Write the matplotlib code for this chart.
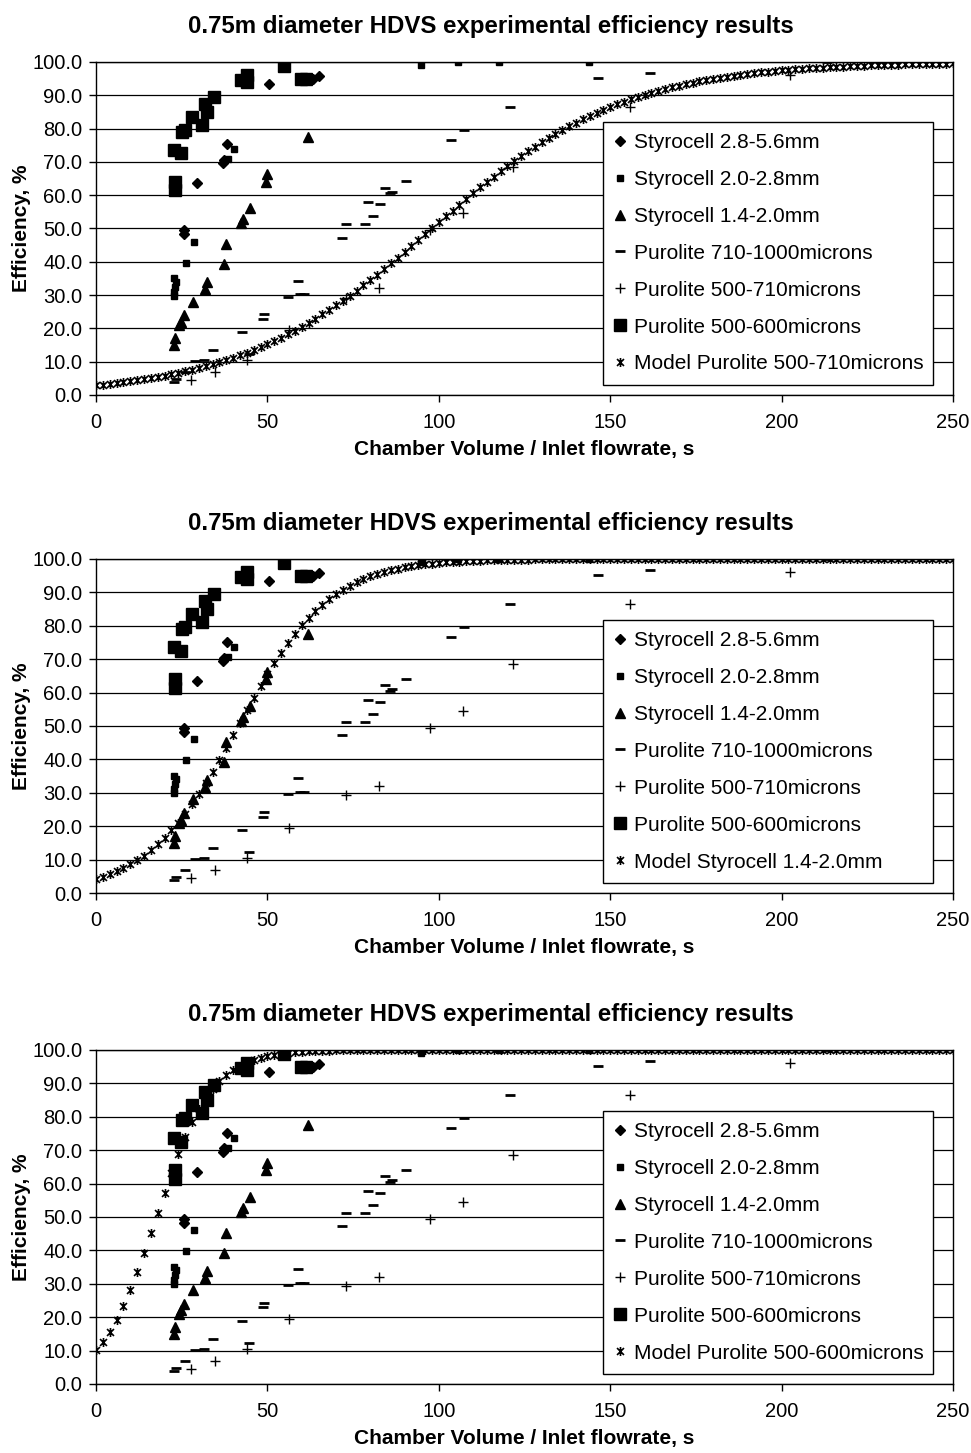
import matplotlib.pyplot as plt
from matplotlib.path import Path
from matplotlib.ticker import FormatStrFormatter

plt.rcParams['font.family'] = ['Liberation Sans', 'DejaVu Sans']

# experimental points (residence time s, efficiency %)
styro_28_56_t = [25.6, 25.8, 29.5, 37.1, 37.4, 38.3, 50.5, 63.2, 65.1]
styro_28_56_e = [49.5, 48.3, 63.5, 69.5, 70.5, 75.2, 93.5, 94.8, 95.8]

styro_20_28_t = [22.6, 22.8, 23.0, 23.3, 22.7, 26.1, 28.7, 38.6, 40.2, 94.8, 105.5, 117.6, 143.8]
styro_20_28_e = [29.8, 31.0, 32.5, 34.0, 35.0, 39.7, 46.0, 70.7, 73.7, 99.2, 100.0, 100.0, 100.0]

styro_14_20_t = [22.7, 23.1, 24.1, 24.8, 25.6, 28.3, 31.9, 32.4, 37.3, 37.8, 42.2, 43.0, 44.8, 49.5, 50.0, 61.7]
styro_14_20_e = [15.0, 17.0, 21.0, 22.0, 24.0, 28.0, 31.7, 33.8, 39.2, 45.3, 51.5, 52.7, 56.0, 64.0, 66.2, 77.5]

puro_710_1000_t = [22.7, 23.4, 25.9, 29.0, 31.5, 34.1, 42.5, 44.6, 48.7, 49.0, 56.1, 59.0, 59.6, 60.8, 71.7,
                   72.8, 78.5, 79.2, 80.9, 82.8, 84.3, 85.8, 86.4, 90.4, 103.6, 107.2, 120.8, 146.5, 161.6, 213.1]
puro_710_1000_e = [3.9, 4.9, 6.9, 10.3, 10.4, 13.4, 18.9, 12.2, 22.9, 24.3, 29.5, 34.3, 30.2, 30.3, 47.2,
                   51.2, 51.2, 57.8, 53.6, 57.2, 62.2, 60.6, 61.0, 64.2, 76.5, 79.7, 86.5, 95.3, 96.7, 100.0]

puro_500_710_t = [27.7, 34.7, 43.9, 56.4, 72.9, 82.4, 97.4, 107.0, 121.5, 155.8, 202.4]
puro_500_710_e = [4.6, 6.9, 10.5, 19.6, 29.2, 32.0, 49.4, 54.5, 68.5, 86.5, 96.0]

puro_500_600_t = [23.1, 23.1, 22.7, 24.8, 25.1, 26.0, 28.0, 30.8, 32.4, 31.9, 34.4, 42.2, 44.1, 44.1, 54.7, 59.8, 61.3]
puro_500_600_e = [61.5, 64.0, 73.5, 72.5, 79.0, 79.5, 83.5, 81.0, 85.0, 87.5, 89.5, 94.5, 96.0, 94.0, 98.7, 94.8, 94.8]

# model curves, one point every 2 s from 0 to 250 s
model_t = list(range(0, 252, 2))

model_p500_710 = [
    2.9, 3.1, 3.4, 3.6, 3.9, 4.1, 4.4, 4.7, 5.1, 5.4,
    5.8, 6.2, 6.7, 7.1, 7.6, 8.1, 8.7, 9.2, 9.9, 10.5,
    11.2, 11.9, 12.7, 13.5, 14.4, 15.3, 16.2, 17.2, 18.2, 19.3,
    20.5, 21.7, 22.9, 24.2, 25.5, 26.9, 28.3, 29.8, 31.3, 32.9,
    34.5, 36.1, 37.8, 39.5, 41.2, 42.9, 44.7, 46.4, 48.2, 50.0,
    51.8, 53.6, 55.3, 57.1, 58.8, 60.6, 62.3, 63.9, 65.5, 67.1,
    68.7, 70.2, 71.7, 73.1, 74.5, 75.8, 77.1, 78.3, 79.5, 80.7,
    81.8, 82.8, 83.8, 84.7, 85.6, 86.5, 87.3, 88.1, 88.8, 89.5,
    90.2, 90.8, 91.4, 91.9, 92.4, 92.9, 93.4, 93.8, 94.2, 94.6,
    94.9, 95.3, 95.6, 95.9, 96.1, 96.4, 96.6, 96.9, 97.1, 97.3,
    97.5, 97.6, 97.8, 97.9, 98.1, 98.2, 98.3, 98.4, 98.5, 98.6,
    98.7, 98.8, 98.9, 99.0, 99.1, 99.1, 99.2, 99.2, 99.3, 99.3,
    99.4, 99.4, 99.5, 99.5, 99.5, 99.6]

model_s14_20 = [
    4.2, 4.9, 5.6, 6.5, 7.5, 8.6, 9.8, 11.2, 12.8, 14.6,
    16.6, 18.8, 21.1, 23.8, 26.6, 29.6, 32.9, 36.3, 39.8, 43.5,
    47.2, 50.9, 54.7, 58.4, 62.0, 65.5, 68.8, 71.9, 74.9, 77.6,
    80.1, 82.4, 84.5, 86.3, 88.0, 89.5, 90.8, 92.0, 93.1, 94.0,
    94.8, 95.5, 96.1, 96.6, 97.1, 97.5, 97.8, 98.1, 98.4, 98.6,
    98.8, 99.0, 99.1, 99.2, 99.3, 99.4, 99.5, 99.6, 99.6, 99.7,
    99.7, 99.8, 99.8, 99.8, 99.9, 99.9, 99.9, 99.9, 99.9, 99.9,
    99.9, 100.0, 100.0, 100.0, 100.0, 100.0, 100.0, 100.0, 100.0, 100.0,
    100.0, 100.0, 100.0, 100.0, 100.0, 100.0, 100.0, 100.0, 100.0, 100.0,
    100.0, 100.0, 100.0, 100.0, 100.0, 100.0, 100.0, 100.0, 100.0, 100.0,
    100.0, 100.0, 100.0, 100.0, 100.0, 100.0, 100.0, 100.0, 100.0, 100.0,
    100.0, 100.0, 100.0, 100.0, 100.0, 100.0, 100.0, 100.0, 100.0, 100.0,
    100.0, 100.0, 100.0, 100.0, 100.0, 100.0]

model_p500_600 = [
    10.2, 12.7, 15.7, 19.3, 23.4, 28.1, 33.4, 39.1, 45.1, 51.2,
    57.3, 63.3, 68.8, 73.8, 78.3, 82.2, 85.5, 88.3, 90.7, 92.5,
    94.1, 95.3, 96.3, 97.1, 97.7, 98.2, 98.6, 98.9, 99.1, 99.3,
    99.5, 99.6, 99.7, 99.8, 99.8, 99.9, 99.9, 99.9, 99.9, 99.9,
    100.0, 100.0, 100.0, 100.0, 100.0, 100.0, 100.0, 100.0, 100.0, 100.0,
    100.0, 100.0, 100.0, 100.0, 100.0, 100.0, 100.0, 100.0, 100.0, 100.0,
    100.0, 100.0, 100.0, 100.0, 100.0, 100.0, 100.0, 100.0, 100.0, 100.0,
    100.0, 100.0, 100.0, 100.0, 100.0, 100.0, 100.0, 100.0, 100.0, 100.0,
    100.0, 100.0, 100.0, 100.0, 100.0, 100.0, 100.0, 100.0, 100.0, 100.0,
    100.0, 100.0, 100.0, 100.0, 100.0, 100.0, 100.0, 100.0, 100.0, 100.0,
    100.0, 100.0, 100.0, 100.0, 100.0, 100.0, 100.0, 100.0, 100.0, 100.0,
    100.0, 100.0, 100.0, 100.0, 100.0, 100.0, 100.0, 100.0, 100.0, 100.0,
    100.0, 100.0, 100.0, 100.0, 100.0, 100.0]

models = [(model_p500_710, 'Model Purolite 500-710microns'),
          (model_s14_20, 'Model Styrocell 1.4-2.0mm'),
          (model_p500_600, 'Model Purolite 500-600microns')]

title = '0.75m diameter HDVS experimental efficiency results'

# excel style "star" marker: an x with a vertical bar
star = Path([(-1, -1), (1, 1), (-1, 1), (1, -1), (0, -1.3), (0, 1.3)],
            [Path.MOVETO, Path.LINETO] * 3)

fig = plt.figure(figsize=(9.71, 14.53), dpi=100)
boxes = [[0.0989, 0.7282, 0.8826, 0.2292],
         [0.0989, 0.3854, 0.8826, 0.2299],
         [0.0989, 0.0475, 0.8826, 0.2299]]

for box, (model_e, model_label) in zip(boxes, models):
    ax = fig.add_axes(box)
    kw = dict(linestyle='none', color='black')
    ax.plot(styro_28_56_t, styro_28_56_e, marker='D', ms=5.5, label='Styrocell 2.8-5.6mm', **kw)
    ax.plot(styro_20_28_t, styro_20_28_e, marker='s', ms=5, label='Styrocell 2.0-2.8mm', **kw)
    ax.plot(styro_14_20_t, styro_14_20_e, marker='^', ms=6.5, label='Styrocell 1.4-2.0mm', **kw)
    ax.plot(puro_710_1000_t, puro_710_1000_e, marker='_', ms=7, mew=2, label='Purolite 710-1000microns', **kw)
    ax.plot(puro_500_710_t, puro_500_710_e, marker='+', ms=7.5, mew=1, label='Purolite 500-710microns', **kw)
    ax.plot(puro_500_600_t, puro_500_600_e, marker='s', ms=8, label='Purolite 500-600microns', **kw)
    ax.plot(model_t, model_e, marker=star, ms=6.5, mew=1.2, mfc='none', label=model_label, **kw)

    ax.set_xlim(0, 250)
    ax.set_ylim(0, 100)
    ax.set_xticks(range(0, 251, 50))
    ax.set_yticks(range(0, 101, 10))
    ax.yaxis.set_major_formatter(FormatStrFormatter('%.1f'))
    ax.tick_params(axis='both', direction='out', length=5, width=1, labelsize=14.5, pad=5)
    ax.tick_params(axis='x', pad=8)
    ax.grid(axis='y', color='black', linewidth=0.9)
    ax.set_axisbelow(True)
    for sp in ax.spines.values():
        sp.set_color('black')
        sp.set_linewidth(1)

    ax.set_title(title, fontsize=17.3, fontweight='bold', pad=21, x=0.461)
    ax.set_xlabel('Chamber Volume / Inlet flowrate, s', fontsize=15, fontweight='bold', labelpad=6)
    ax.set_ylabel('Efficiency, %', fontsize=15, fontweight='bold', labelpad=0.5)

    # fixed-size legend box, same in all three panels
    leg = ax.legend(loc='lower left', bbox_to_anchor=(0.5916, 0.03, 0.385, 0.79), mode='expand',
                    fontsize=15, frameon=True, fancybox=False, framealpha=1, edgecolor='black',
                    numpoints=1, handlelength=0.5, handletextpad=0.45,
                    labelspacing=0.86, borderpad=0.55, borderaxespad=0)
    leg.get_frame().set_linewidth(1)

fig.savefig('out.png', dpi=100)
